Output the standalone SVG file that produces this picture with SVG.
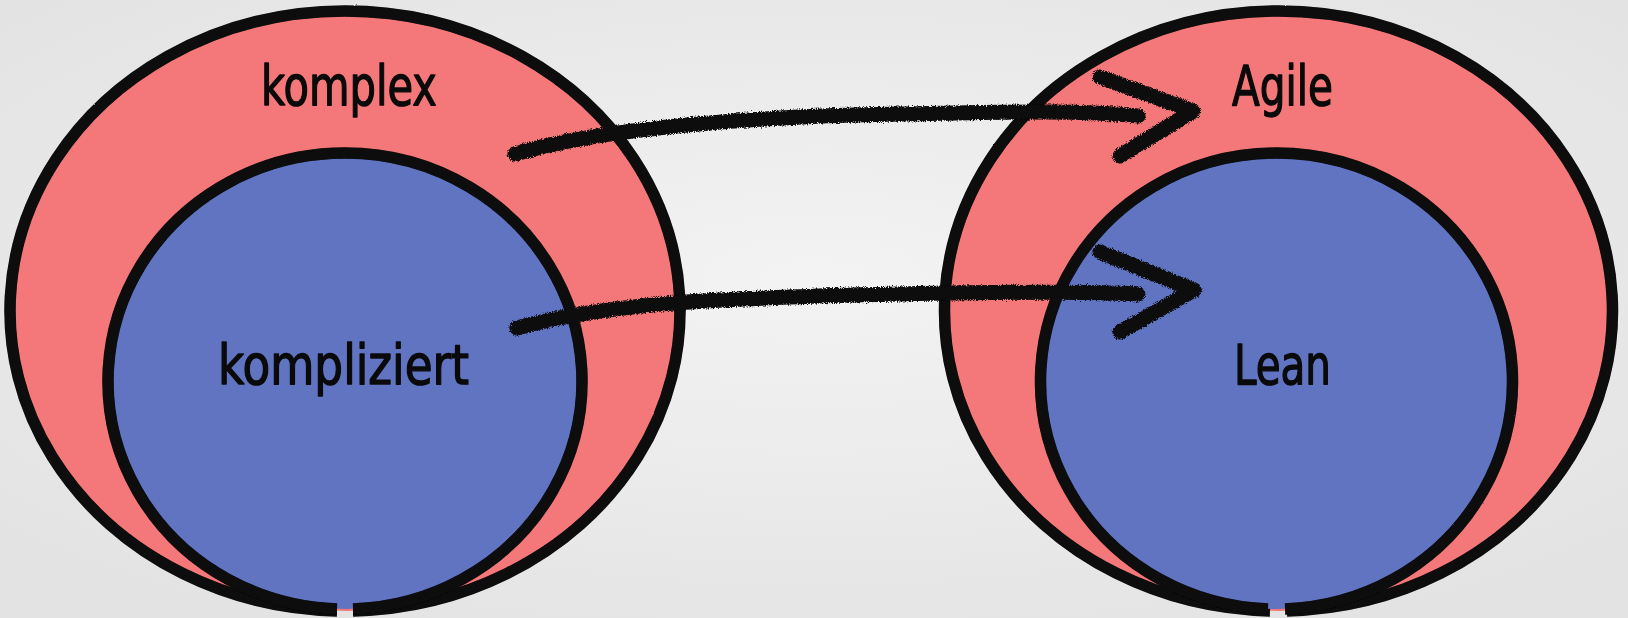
<svg xmlns="http://www.w3.org/2000/svg" width="1628" height="618" viewBox="0 0 1628 618">
<defs>
<radialGradient id="bg" cx="50%" cy="45%" r="65%">
<stop offset="0" stop-color="#f3f3f3"/>
<stop offset="1" stop-color="#e3e3e3"/>
</radialGradient>
<filter id="rough" x="-5%" y="-20%" width="110%" height="140%">
<feTurbulence type="fractalNoise" baseFrequency="1.2" numOctaves="2" seed="3" result="n"/>
<feDisplacementMap in="SourceGraphic" in2="n" scale="5" xChannelSelector="R" yChannelSelector="G"/>
</filter>
<filter id="soft" x="-2%" y="-2%" width="104%" height="104%">
<feTurbulence type="fractalNoise" baseFrequency="1.1" numOctaves="1" seed="7" result="n"/>
<feDisplacementMap in="SourceGraphic" in2="n" scale="1.6" xChannelSelector="R" yChannelSelector="G"/>
</filter>
</defs>
<style>
.pink{fill:#f47879}
.blue{fill:#6174c1}
.ring{fill:none;stroke:#080808;stroke-width:11.5;stroke-linecap:butt}
.lbl{font-family:"DejaVu Sans Condensed","DejaVu Sans",sans-serif;font-size:56px;fill:#0a0a0a;stroke:#0a0a0a;stroke-width:1.3;stroke-linejoin:round}
.arr{fill:none;stroke:#0a0a0a;stroke-width:15;stroke-linecap:round;stroke-linejoin:round}
</style>
<rect width="1628" height="618" fill="url(#bg)"/>

<g id="node-komplex">
<ellipse class="pink" cx="348" cy="311" rx="335" ry="300"/>
<path class="ring" filter="url(#soft)" d="M 353 610.9 A 335 300 0 1 0 337 610.9"/>
<text class="lbl" x="261" y="105" textLength="176" lengthAdjust="spacingAndGlyphs">komplex</text>
</g>
<g id="node-kompliziert">
<ellipse class="blue" cx="346" cy="381" rx="237" ry="228"/>
<path class="ring" filter="url(#soft)" d="M 353 608.9 A 237 228 0 1 0 337 608.9"/>
<text class="lbl" x="218" y="384" textLength="251" lengthAdjust="spacingAndGlyphs">kompliziert</text>
</g>

<g id="node-agile">
<ellipse class="pink" cx="1280" cy="311" rx="334" ry="300"/>
<path class="ring" filter="url(#soft)" d="M 1287 610.9 A 334 300 0 1 0 1270 610.9"/>
<text class="lbl" x="1232" y="105" textLength="101" lengthAdjust="spacingAndGlyphs">Agile</text>
</g>
<g id="node-lean">
<ellipse class="blue" cx="1277" cy="381" rx="236" ry="228"/>
<path class="ring" filter="url(#soft)" d="M 1285 608.9 A 236 228 0 1 0 1268 608.9"/>
<text class="lbl" x="1234" y="384" textLength="97" lengthAdjust="spacingAndGlyphs">Lean</text>
</g>

<g id="connectors" filter="url(#rough)">
<path class="arr" d="M 515 154 C 600 128 760 116 900 114 C 1010 112 1080 110 1138 116"/>
<path class="arr" d="M 1100 77 L 1193 111 L 1120 156"/>
<path class="arr" d="M 517 328 C 600 305 700 298 900 294 C 1000 292 1080 291 1138 294"/>
<path class="arr" d="M 1100 252 L 1194 290 L 1120 332"/>
</g>
</svg>
